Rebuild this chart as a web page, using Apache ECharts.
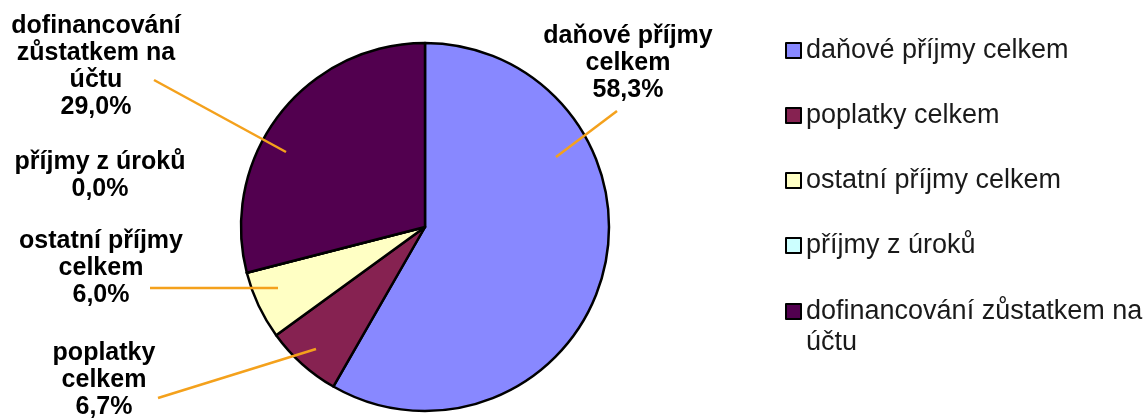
<!DOCTYPE html>
<html>
<head>
<meta charset="utf-8">
<script src="https://cdn.jsdelivr.net/npm/echarts@6/dist/echarts.min.js"></script>
<style>
  html, body { margin: 0; padding: 0; background: #fff; }
  #pie-chart { width: 1148px; height: 418px; }
</style>
</head>
<body>
<div id="pie-chart"></div>
<script>
// data (percent of total)
var categories = ['daňové příjmy celkem', 'poplatky celkem', 'ostatní příjmy celkem', 'příjmy z úroků', 'dofinancování zůstatkem na účtu'];
var labelNames = ['daňové příjmy\ncelkem', 'poplatky\ncelkem', 'ostatní příjmy\ncelkem', 'příjmy z úroků', 'dofinancování\nzůstatkem na\núčtu'];
var values = [58.3, 6.7, 6.0, 0.0, 29.0];
var colors = ['#8888ff', '#862251', '#ffffc4', '#ccffff', '#52004f'];

// where each label sits and where its leader line goes (layout only)
var labelSpots = [
	{ x: 628, y: 63, line: [[617, 111], [556, 157]] },
	{ x: 104, y: 380, line: [[158, 398], [316, 349]] },
	{ x: 101, y: 268, line: [[150, 288], [278, 288]] },
	{ x: 100, y: 176, line: null },
	{ x: 96, y: 67, line: [[154, 80], [286, 152]] }
];

var pieData = [], labelData = [], legendData = [];
for (var i = 0; i < categories.length; i++) {
	pieData.push({ name: categories[i], value: values[i], itemStyle: { color: colors[i] } });
	// second, invisible copy carries labels so the leader lines sit above the slices
	labelData.push({
		name: categories[i],
		value: values[i],
		labelLine: { show: labelSpots[i].line != null }
	});
	legendData.push({ name: categories[i], itemStyle: { color: colors[i], borderColor: '#000', borderWidth: 2 } });
}

var chart = echarts.init(document.getElementById('pie-chart'));
var legendText = { fontFamily: 'Arial, "Liberation Sans", sans-serif', fontSize: 27, color: '#1a1a1a', lineHeight: 31 };
var option = {
	animation: false,
	color: colors,
	legend: [
		{
			orient: 'vertical',
			left: 780,
			top: 30,
			itemWidth: 15,
			itemHeight: 15,
			itemGap: 34,
			icon: 'rect',
			selectedMode: false,
			textStyle: legendText,
			data: legendData.slice(0, 4)
		},
		{
			orient: 'vertical',
			left: 780,
			top: 260,
			itemWidth: 15,
			itemHeight: 15,
			icon: 'rect',
			selectedMode: false,
			textStyle: legendText,
			// empty first line keeps the icon level with the first text line
			formatter: function (name) {
				return '\ndofinancování zůstatkem na\núčtu';
			},
			data: legendData.slice(4)
		}
	],
	series: [
		{
			type: 'pie',
			center: [425, 227],
			radius: 184,
			startAngle: 90,
			clockwise: true,
			itemStyle: { borderColor: '#000', borderWidth: 2.5 },
			emphasis: { disabled: true },
			label: { show: false },
			labelLine: { show: false },
			data: pieData
		},
		{
			type: 'pie',
			z: 5,
			center: [425, 227],
			radius: 184,
			startAngle: 90,
			clockwise: true,
			avoidLabelOverlap: false,
			silent: true,
			itemStyle: { color: 'rgba(0,0,0,0)', borderWidth: 0 },
			emphasis: { disabled: true },
			label: {
				show: true,
				position: 'outside',
				fontFamily: 'Arial, "Liberation Sans", sans-serif',
				fontWeight: 'bold',
				fontSize: 25,
				lineHeight: 27,
				color: '#000',
				align: 'center',
				formatter: function (p) {
					return labelNames[p.dataIndex] + '\n' + p.value.toFixed(1).replace('.', ',') + '%';
				}
			},
			labelLine: {
				show: true,
				lineStyle: { color: '#f4a11c', width: 2.5 }
			},
			labelLayout: function (p) {
				var s = labelSpots[p.dataIndex];
				var out = { x: s.x, y: s.y, align: 'center', verticalAlign: 'middle' };
				if (s.line) out.labelLinePoints = [s.line[0], s.line[0], s.line[1]];
				return out;
			},
			data: labelData
		}
	]
};
chart.setOption(option);
</script>
</body>
</html>
